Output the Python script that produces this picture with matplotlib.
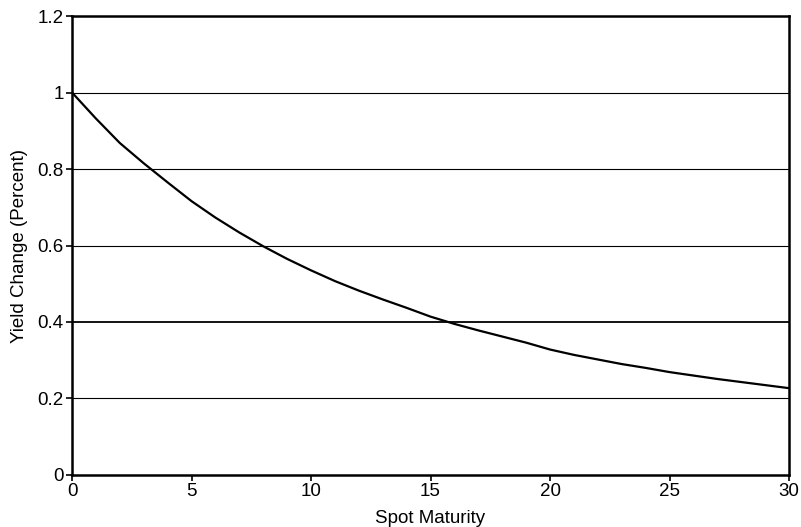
import matplotlib
matplotlib.use("Agg")
import matplotlib.pyplot as plt

maturity = [0, 1, 2, 3, 4, 5, 6, 7, 8, 9, 10, 11, 12, 13, 14, 15, 16, 17, 18, 19, 20,
            21, 22, 23, 24, 25, 26, 27, 28, 29, 30]
yield_change = [1.00, 0.932, 0.868, 0.815, 0.765, 0.716, 0.673, 0.634, 0.598, 0.565, 0.535,
                0.507, 0.482, 0.459, 0.437, 0.414, 0.395, 0.378, 0.362, 0.346, 0.328,
                0.314, 0.302, 0.290, 0.280, 0.269, 0.260, 0.251, 0.243, 0.235, 0.227]
x_ticks = [0, 5, 10, 15, 20, 25, 30]
y_ticks = [0, 0.2, 0.4, 0.6, 0.8, 1.0, 1.2]
y_tick_labels = ["0", "0.2", "0.4", "0.6", "0.8", "1", "1.2"]

plt.rcParams['font.family'] = ['Liberation Sans', 'DejaVu Sans']

fig = plt.figure(figsize=(8.01, 5.27), dpi=100)
ax = fig.add_axes([0.0899, 0.0987, 0.8952, 0.8709])

for y in y_ticks[1:-1]:
    ax.axhline(y, color='black', linewidth=1.3 if y == 0.4 else 0.8, zorder=1)

ax.plot(maturity, yield_change, color='black', linewidth=1.6, zorder=3,
        solid_joinstyle='round')

ax.set_xlim(0, 30)
ax.set_ylim(0, 1.2)
ax.set_xticks(x_ticks)
ax.set_yticks(y_ticks)
ax.set_yticklabels(y_tick_labels)
ax.tick_params(axis='both', labelsize=13.5, direction='out', length=4, width=1.2, colors='black')
ax.tick_params(axis='x', pad=2)
ax.tick_params(axis='y', pad=2)
for s in ax.spines.values():
    s.set_linewidth(1.8)
    s.set_color('black')

ax.set_xlabel("Spot Maturity", fontsize=13.5, labelpad=7)
ax.set_ylabel("Yield Change (Percent)", fontsize=13.5, labelpad=7)

fig.savefig("out.png", dpi=100)
